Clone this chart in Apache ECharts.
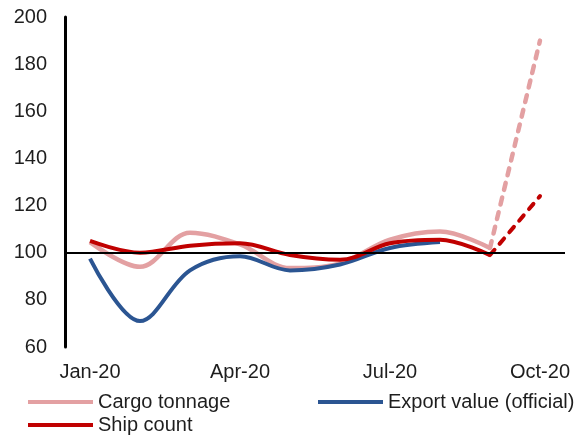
<!DOCTYPE html>
<html>
<head>
<meta charset="utf-8">
<script src="https://cdn.jsdelivr.net/npm/echarts@6/dist/echarts.min.js"></script>
<style>
  html, body { margin: 0; padding: 0; background: #fff; }
  #chart { width: 583px; height: 435px; }
</style>
</head>
<body>
<div id="chart"></div>
<script>
// months on the x axis
var months = ['Jan-20', 'Feb-20', 'Mar-20', 'Apr-20', 'May-20', 'Jun-20', 'Jul-20', 'Aug-20', 'Sep-20', 'Oct-20'];
// index values, solid part (to Sep)
var cargoTonnage = [104.5, 94, 108.5, 103.5, 93.5, 95.5, 105.5, 109, 102, null];
var exportValue = [97.5, 71, 92.5, 98.5, 92.5, 95, 102, 104.5, null, null];
var shipCount = [105, 100, 103, 104, 99, 97, 104, 105.5, 99, null];
// dashed part (Sep -> Oct)
var cargoTonnageEst = [null, null, null, null, null, null, null, null, 102, 190];
var shipCountEst = [null, null, null, null, null, null, null, null, 99, 124];

var yTicks = { min: 60, max: 200, step: 20 };

var txt = '#1e1e1e';
var font = 'Liberation Sans, Arial, sans-serif';
var sm = 0.35;

var myChart = echarts.init(document.getElementById('chart'));

function legendAt(name, left, top) {
    return {
        left: left, top: top,
        icon: 'rect',
        itemWidth: 65, itemHeight: 4,
        textStyle: { fontSize: 20, color: txt, fontFamily: font },
        data: [name]
    };
}

var option = {
    animation: false,
    textStyle: { fontFamily: font },
    grid: { left: 65, right: 18, top: 17, bottom: 88 },
    legend: [
        legendAt('Cargo tonnage', 23, 387),
        legendAt('Ship count', 23, 410),
        legendAt('Export value (official)', 313, 387)
    ],
    xAxis: {
        type: 'category',
        data: months,
        boundaryGap: true,
        axisLine: { show: false },
        axisTick: { show: false },
        axisLabel: { interval: 2, fontSize: 20, color: txt, margin: 15 }
    },
    yAxis: {
        type: 'value',
        min: yTicks.min, max: yTicks.max, interval: yTicks.step,
        axisLine: { show: true, lineStyle: { color: '#000', width: 3 } },
        axisTick: { show: false },
        splitLine: { show: false },
        axisLabel: { fontSize: 20, color: txt, margin: 18 }
    },
    series: [
        {
            name: 'Cargo tonnage', type: 'line', smooth: sm, symbol: 'none',
            data: cargoTonnage,
            itemStyle: { color: '#E3A0A2' },
            lineStyle: { color: '#E3A0A2', width: 4.5 },
            z: 2,
            markLine: {
                silent: true, symbol: 'none', label: { show: false },
                lineStyle: { color: '#000', width: 2, type: 'solid' },
                data: [{ yAxis: 100 }]
            }
        },
        {
            name: 'Cargo tonnage est', type: 'line', smooth: sm, symbol: 'none',
            data: cargoTonnageEst,
            lineStyle: { color: '#E3A0A2', width: 4.5, type: [7, 8], cap: 'round' },
            z: 2
        },
        {
            name: 'Export value (official)', type: 'line', smooth: sm, symbol: 'none',
            data: exportValue,
            itemStyle: { color: '#2B5592' },
            lineStyle: { color: '#2B5592', width: 4 },
            z: 3
        },
        {
            name: 'Ship count', type: 'line', smooth: sm, symbol: 'none',
            data: shipCount,
            itemStyle: { color: '#C00000' },
            lineStyle: { color: '#C00000', width: 4 },
            z: 4
        },
        {
            name: 'Ship count est', type: 'line', smooth: sm, symbol: 'none',
            data: shipCountEst,
            lineStyle: { color: '#C00000', width: 4, type: [7, 8], cap: 'round' },
            z: 4
        }
    ]
};

myChart.setOption(option);
</script>
</body>
</html>
